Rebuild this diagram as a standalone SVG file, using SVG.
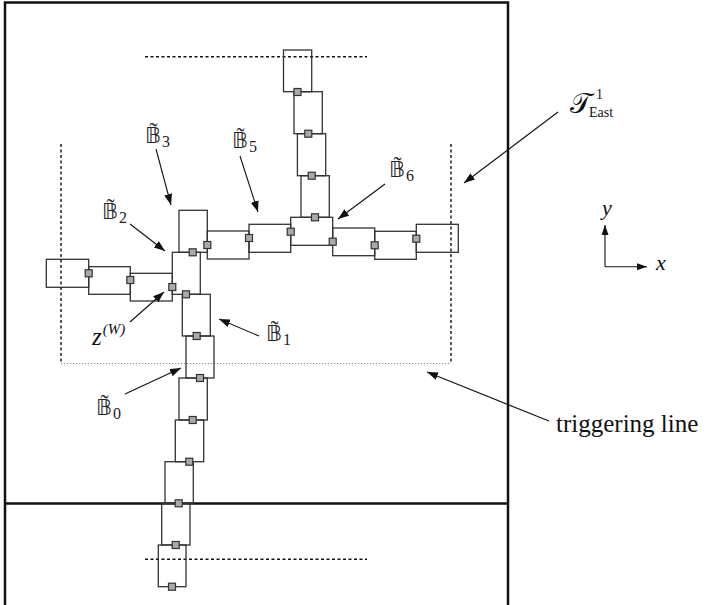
<svg xmlns="http://www.w3.org/2000/svg" width="704" height="605" viewBox="0 0 704 605">
<style>
.bx{fill:none;stroke:#333;stroke-width:1.3}
.sq{fill:#aaa;stroke:#333;stroke-width:1.2}
.fr{fill:none;stroke:#111;stroke-width:2.5}
.dl{fill:none;stroke:#111;stroke-width:1.4;stroke-dasharray:3 2.5}
.dt{fill:none;stroke:#888;stroke-width:1.2;stroke-dasharray:1.2 1.8}
.ar{fill:none;stroke:#111;stroke-width:1.1;marker-end:url(#ah)}
.bb{font-family:"DejaVu Sans","Noto Sans",sans-serif;font-size:22px;fill:#222}
.sb{font-family:"Liberation Serif","DejaVu Serif",serif;font-size:16px;fill:#222}
.tl{font-family:"Liberation Serif","DejaVu Serif",serif;font-size:24px;fill:#222}
.it{font-family:"Liberation Serif","DejaVu Serif",serif;font-style:italic;fill:#111}
.tx{font-family:"Liberation Serif","DejaVu Serif",serif;fill:#111}
</style>
<defs>
<marker id="ah" markerUnits="userSpaceOnUse" markerWidth="11" markerHeight="8" refX="11" refY="4" orient="auto">
<path d="M0,0 L11,4 L0,8 z" fill="#111"/>
</marker>
<marker id="ah2" markerUnits="userSpaceOnUse" markerWidth="10" markerHeight="7" refX="10" refY="3.5" orient="auto">
<path d="M0,0 L10,3.5 L0,7 z" fill="#111"/>
</marker>
</defs>
<rect width="704" height="605" fill="#fff"/>
<g id="frame">
<path class="fr" d="M5,605 V2.5 H508 V605"/>
<line class="fr" x1="5" y1="503.5" x2="508" y2="503.5"/>
</g>
<g id="guides">
<line class="dl" x1="145" y1="56.7" x2="367" y2="56.7"/>
<line class="dl" x1="145" y1="559.3" x2="367" y2="559.3"/>
</g>
<g id="triggering-region">
<line class="dl" x1="61" y1="144" x2="61" y2="363.5"/>
<line class="dl" x1="451" y1="144" x2="451" y2="363.5"/>
<line class="dt" x1="61" y1="363.5" x2="451" y2="363.5"/>
</g>
<g id="boxes">
<g id="u1"><rect class="bx" x="283.5" y="50" width="28.2" height="41.7"/></g>
<g id="u2"><rect class="bx" x="294" y="91.7" width="28.3" height="42"/></g>
<g id="u3"><rect class="bx" x="297.4" y="133.7" width="28.3" height="42"/></g>
<g id="u4"><rect class="bx" x="301" y="175.7" width="28.3" height="41.6"/></g>
<g id="hub"><rect class="bx" x="290.7" y="217.3" width="42" height="28"/></g>
<g id="r1"><rect class="bx" x="332.7" y="228" width="42" height="27.7"/></g>
<g id="r2"><rect class="bx" x="374.7" y="231.3" width="41.6" height="28"/></g>
<g id="r3"><rect class="bx" x="416.3" y="224.3" width="42" height="28"/></g>
<g id="B5"><rect class="bx" x="249" y="224.3" width="41.7" height="28"/></g>
<g id="b4"><rect class="bx" x="207.3" y="231" width="41.7" height="28"/></g>
<g id="B3"><rect class="bx" x="179" y="210.3" width="28.3" height="42"/></g>
<g id="B2"><rect class="bx" x="172.3" y="252.3" width="28" height="42"/></g>
<g id="l3"><rect class="bx" x="130.3" y="273.3" width="42" height="27.7"/></g>
<g id="l2"><rect class="bx" x="88.7" y="266.7" width="41.6" height="27.6"/></g>
<g id="l1"><rect class="bx" x="46.3" y="259.3" width="42.4" height="28"/></g>
<g id="B1"><rect class="bx" x="182.3" y="294.3" width="28" height="41.7"/></g>
<g id="B0"><rect class="bx" x="186" y="336" width="28" height="42"/></g>
<g id="d3"><rect class="bx" x="179" y="378" width="28.3" height="42"/></g>
<g id="d4"><rect class="bx" x="175.3" y="420" width="28.4" height="41.7"/></g>
<g id="d5"><rect class="bx" x="165" y="461.7" width="28.3" height="41.6"/></g>
<g id="d6"><rect class="bx" x="161.7" y="503.3" width="28.3" height="41.7"/></g>
<g id="d7"><rect class="bx" x="158.3" y="545" width="27.7" height="41.7"/></g>
</g>
<g id="points">
<rect class="sq" x="294" y="88.5" width="7" height="7"/>
<rect class="sq" x="304.8" y="130.2" width="7" height="7"/>
<rect class="sq" x="308.2" y="172.2" width="7" height="7"/>
<rect class="sq" x="311.5" y="213.8" width="7" height="7"/>
<rect class="sq" x="287.2" y="228.2" width="7" height="7"/>
<rect class="sq" x="329.2" y="238.2" width="7" height="7"/>
<rect class="sq" x="371.2" y="241.8" width="7" height="7"/>
<rect class="sq" x="412.8" y="235.2" width="7" height="7"/>
<rect class="sq" x="245.5" y="234.5" width="7" height="7"/>
<rect class="sq" x="203.8" y="241.5" width="7" height="7"/>
<rect class="sq" x="189.2" y="248.8" width="7" height="7"/>
<rect class="sq" x="168.8" y="283.5" width="7" height="7"/>
<rect class="sq" x="126.8" y="276.5" width="7" height="7"/>
<rect class="sq" x="85.2" y="269.8" width="7" height="7"/>
<rect class="sq" x="182.5" y="290.8" width="7" height="7"/>
<rect class="sq" x="193.2" y="332.5" width="7" height="7"/>
<rect class="sq" x="196.5" y="374.5" width="7" height="7"/>
<rect class="sq" x="189.2" y="416.5" width="7" height="7"/>
<rect class="sq" x="185.8" y="458.2" width="7" height="7"/>
<rect class="sq" x="175.2" y="499.8" width="7" height="7"/>
<rect class="sq" x="172.2" y="541.5" width="7" height="7"/>
<rect class="sq" x="168.5" y="583.2" width="7" height="7"/>
</g>
<g id="connectors">
<line class="ar" x1="558" y1="112" x2="464" y2="183"/>
<line class="ar" x1="156" y1="149" x2="171" y2="205"/>
<line class="ar" x1="240" y1="156" x2="258" y2="212"/>
<line class="ar" x1="385" y1="184" x2="338" y2="219"/>
<line class="ar" x1="130" y1="224" x2="165" y2="251"/>
<line class="ar" x1="130" y1="322" x2="164" y2="292"/>
<line class="ar" x1="259" y1="336" x2="219" y2="319"/>
<line class="ar" x1="125" y1="394" x2="181" y2="368"/>
<line class="ar" x1="549" y1="421" x2="427" y2="372"/>
</g>
<g id="axes">
<line x1="605" y1="266.7" x2="605" y2="225" stroke="#111" stroke-width="1.1" marker-end="url(#ah2)"/>
<line x1="605" y1="266.7" x2="647" y2="266.7" stroke="#111" stroke-width="1.1" marker-end="url(#ah2)"/>
<text class="it" x="602" y="215" font-size="22">y</text>
<text class="it" x="656" y="270" font-size="22">x</text>
</g>
<g id="labels">
<text id="lab-B3" class="bb" x="145" y="143">𝔹<tspan class="tl" dx="-11.5" dy="-4">˜</tspan><tspan class="sb" dx="4.5" dy="8">3</tspan></text>
<text id="lab-B5" class="bb" x="232" y="148">𝔹<tspan class="tl" dx="-11.5" dy="-4">˜</tspan><tspan class="sb" dx="4.5" dy="8">5</tspan></text>
<text id="lab-B6" class="bb" x="389" y="177">𝔹<tspan class="tl" dx="-11.5" dy="-4">˜</tspan><tspan class="sb" dx="4.5" dy="8">6</tspan></text>
<text id="lab-B2" class="bb" x="102" y="219">𝔹<tspan class="tl" dx="-11.5" dy="-4">˜</tspan><tspan class="sb" dx="4.5" dy="8">2</tspan></text>
<text id="lab-B1" class="bb" x="266" y="341">𝔹<tspan class="tl" dx="-11.5" dy="-4">˜</tspan><tspan class="sb" dx="4.5" dy="8">1</tspan></text>
<text id="lab-B0" class="bb" x="96" y="415">𝔹<tspan class="tl" dx="-11.5" dy="-4">˜</tspan><tspan class="sb" dx="4.5" dy="8">0</tspan></text>
<text id="lab-z" class="it" x="92" y="345" font-size="25">z<tspan font-size="15" dy="-11" dx="1">(W)</tspan></text>
<text id="lab-T" class="tx" x="570" y="113" font-size="28"><tspan font-family="DejaVu Sans, Noto Sans, sans-serif">𝒯</tspan><tspan font-size="14" x="596" y="99">1</tspan><tspan font-size="14" x="589" y="117">East</tspan></text>
<text id="lab-trig" class="tx" x="556" y="432" font-size="25">triggering line</text>
</g>
</svg>
